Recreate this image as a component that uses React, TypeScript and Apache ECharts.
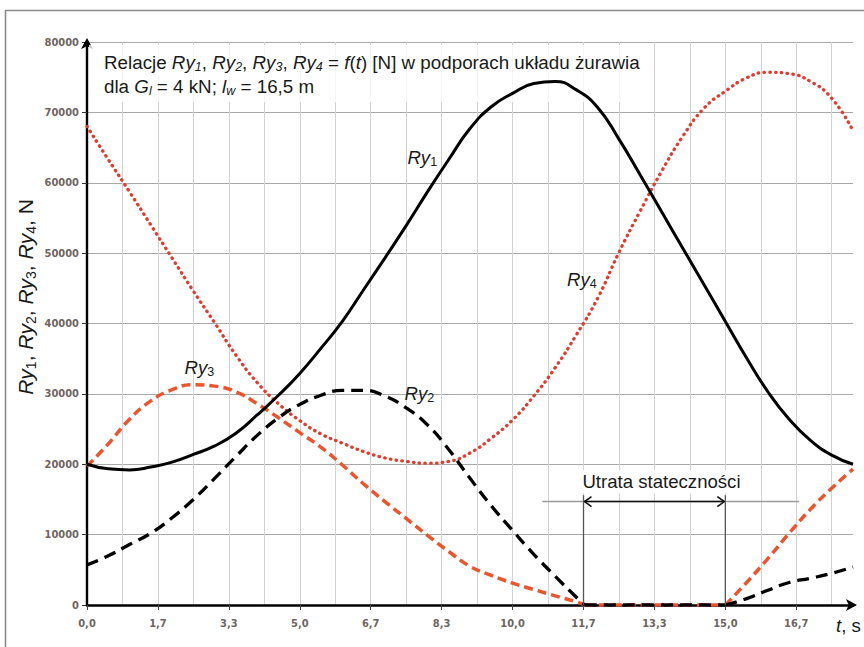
import React, { useEffect, useRef } from 'react';
import * as echarts from 'echarts';

// time points (s) for Ry1 and Ry4
const tFull = [0, 0.5, 1, 1.5, 2, 2.5, 3, 3.5, 4, 4.5, 5, 5.5, 6, 6.5, 7, 7.5, 8, 8.5, 9, 9.5, 10, 10.5, 11, 11.5, 12, 12.5, 13, 13.5, 14, 14.5, 15, 15.5, 16, 16.5, 17, 17.5, 18];
// time points (s) for Ry2 and Ry3 (they stay at zero between 11,7 s and 15,0 s)
const tLoaded = [0, 0.5, 1, 1.5, 2, 2.5, 3, 3.5, 4, 4.5, 5, 5.5, 6, 6.5, 7, 7.5, 8, 8.5, 9, 9.5, 10, 10.5, 11, 11.5, 11.7, 15, 15.5, 16, 16.5, 17, 17.5, 18];

// reactions in supports, N
const ry1 = [20000, 19350, 19200, 19600, 20300, 21400, 22600, 24400, 27000, 29800, 32900, 36500, 40300, 44800, 49300, 53900, 58700, 63300, 67700, 70800, 72700, 74100, 74400, 73200, 70700, 66200, 61100, 55900, 50700, 45500, 40300, 35100, 30300, 26400, 23400, 21300, 20000];
const ry4 = [68000, 63300, 58700, 54000, 49300, 44600, 40100, 35500, 31600, 28600, 26200, 24300, 23000, 21800, 20900, 20400, 20150, 20400, 21600, 23700, 26300, 29700, 33700, 38400, 43600, 50100, 56000, 61600, 66600, 70600, 73000, 74900, 75700, 75500, 74400, 72000, 67400];
const ry2 = [5700, 7000, 8600, 10200, 12400, 15000, 18000, 21100, 24100, 26600, 28500, 29800, 30500, 30500, 29700, 28000, 25600, 22100, 18000, 14100, 10600, 7200, 4100, 1100, 0, 0, 900, 2100, 3200, 3800, 4500, 5400];
const ry3 = [19700, 22900, 26400, 29000, 30600, 31300, 31100, 30300, 28600, 26600, 24500, 22400, 19900, 17200, 14700, 12300, 9900, 7600, 5500, 4200, 3100, 2200, 1300, 450, 0, 0, 3200, 6600, 10200, 13600, 16600, 19300];

// axis ticks
const xLabelValues = [0, 1.667, 3.333, 5.0, 6.667, 8.333, 10.0, 11.667, 13.333, 15.0, 16.667];
const xGridStep = 0.8333333333333334;
const xMax = 18;
const yMax = 80000;
const yStep = 10000;

// annotation "Utrata stateczności"
const lossStartT = 11.667;
const lossEndT = 15.0;
const lossLineTop = 15600;
const lossArrowLevel = 14700;
const lossGuideFrom = 10.7;
const lossGuideTo = 16.73;
const lossLabelPos = [13.5, 17500];

// curve labels: [t, value, index text]
const curveLabels: [number, number, string][] = [
  [7.53, 63600, '1'],
  [7.46, 30100, '2'],
  [2.29, 33800, '3'],
  [11.28, 46300, '4'],
];

const FONT = '"Liberation Sans", Arial, sans-serif';
const AXFONT = '"DejaVu Sans Condensed", "DejaVu Sans", sans-serif';
const RED3 = '#e8552f';
const RED4 = '#dc3e31';

function splitAtZeros(ts: number[], values: number[]) {
  const pairs = ts.map((t, i) => [t, values[i]]);
  const first = values.indexOf(0);
  const last = values.lastIndexOf(0);
  if (first < 0) return [pairs];
  return [pairs.slice(0, first + 1), pairs.slice(first, last + 1), pairs.slice(last)];
}

function lineSeries(ts: number[], values: number[], color: string, width: number, dash: number[] | 'solid', cap: string, z: number) {
  return splitAtZeros(ts, values).map((data) => ({
    type: 'line',
    xAxisIndex: 0,
    yAxisIndex: 0,
    data,
    smooth: true,
    symbol: 'none',
    silent: true,
    z,
    lineStyle: { color, width, type: dash, cap },
  }));
}

export default function App() {
  const ref = useRef<HTMLDivElement>(null);

  useEffect(() => {
    if (!ref.current) return;
    const chart = echarts.init(ref.current, undefined, { renderer: 'svg' });

    const option: any = {
      animation: false,
      backgroundColor: '#ffffff',
      grid: { left: 87, right: 11, top: 42, bottom: 42, containLabel: false, outerBoundsMode: 'none' },
      xAxis: [
        {
          type: 'value',
          min: 0,
          max: xMax,
          interval: xGridStep,
          z: 3,
          axisLine: {
            show: true,
            onZero: false,
            symbol: ['none', 'arrow'],
            symbolSize: [9, 11],
            symbolOffset: [0, 4],
            lineStyle: { color: '#000', width: 2.6 },
          },
          axisTick: { show: true, inside: false, length: 5, customValues: xLabelValues, lineStyle: { color: '#444', width: 1 } },
          axisLabel: {
            customValues: xLabelValues,
            formatter: (v: number) => v.toFixed(1).replace('.', ','),
            margin: 13,
            color: '#6e6461',
            fontSize: 11,
            fontWeight: 'bold',
            fontFamily: AXFONT,
          },
          splitLine: { show: false },
        },
        {
          // grid lines every 5/6 s
          type: 'value',
          min: 0,
          max: xMax,
          interval: xGridStep,
          position: 'bottom',
          axisLine: { show: false },
          axisTick: { show: false },
          axisLabel: { show: false },
          splitLine: { show: true, showMaxLine: false, lineStyle: { color: '#d2d2d2', width: 1 } },
        },
      ],
      yAxis: {
        type: 'value',
        min: 0,
        max: yMax,
        interval: yStep,
        axisLine: {
          show: true,
          symbol: ['none', 'arrow'],
          symbolSize: [9, 11],
          symbolOffset: [0, 4],
          lineStyle: { color: '#000', width: 2.4 },
        },
        axisTick: { show: true, inside: false, length: 5, lineStyle: { color: '#333', width: 1 } },
        axisLabel: {
          formatter: (v: number) => String(v),
          margin: 8,
          color: '#6e6461',
          fontSize: 11,
          fontWeight: 'bold',
          fontFamily: AXFONT,
        },
        splitLine: { show: true, lineStyle: { color: '#a8a8a8', width: 1 } },
      },
      series: [
        ...lineSeries(tFull, ry4, RED4, 3.3, [0.5, 5.3], 'round', 3),
        ...lineSeries(tLoaded, ry3, RED3, 3.5, [9, 5], 'butt', 4),
        ...lineSeries(tLoaded, ry2, '#000', 3.3, [12, 7], 'butt', 5),
        ...lineSeries(tFull, ry1, '#000', 3, 'solid', 'butt', 6),
      ],
    };
    chart.setOption(option);

    const px = (t: number, v: number) => chart.convertToPixel({ xAxisIndex: 0, yAxisIndex: 0 }, [t, v]) as number[];

    const txt = (size: number, italic = false) => ({
      fontSize: size,
      fontFamily: FONT,
      fontStyle: italic ? 'italic' : 'normal',
      fill: '#1a1a1a',
    });
    const subBase = { fontFamily: FONT, fill: '#1a1a1a', verticalAlign: 'bottom', lineHeight: 13 };

    const richFor = (size: number, subSize: number, subItalic: boolean) => ({
      n: { ...txt(size), lineHeight: size + 4 },
      i: { ...txt(size, true), lineHeight: size + 4 },
      s: { ...subBase, fontSize: subSize, fontStyle: subItalic ? 'italic' : 'normal', lineHeight: subSize + 1 },
    });
    const titleRich = richFor(18.8, 12.5, true);
    const labelRich = richFor(18.6, 12.5, false);
    const yNameRich = richFor(21, 14, false);

    const elements: any[] = [];
    // outer frame
    elements.push({
      type: 'rect', silent: true, z: 50,
      shape: { x: 5.5, y: 10.5, width: 900, height: 700 },
      style: { fill: 'none', stroke: '#8a8a8a', lineWidth: 1.6 },
    });
    // title backdrop
    elements.push({
      type: 'rect', silent: true, z: 1,
      shape: { x: 89, y: 45, width: 556, height: 57 },
      style: { fill: 'rgba(255,255,255,0.78)' },
    });
    elements.push({
      type: 'text', silent: true, z: 20, x: 104, y: 62,
      style: {
        text: '{n|Relacje }{i|Ry}{s|1}{n|, }{i|Ry}{s|2}{n|, }{i|Ry}{s|3}{n|, }{i|Ry}{s|4}{n| = }{i|f}{n|(}{i|t}{n|) [N] w podporach układu żurawia}',
        verticalAlign: 'middle', textAlign: 'left', rich: titleRich, ...txt(18.8),
      },
    });
    elements.push({
      type: 'text', silent: true, z: 20, x: 104, y: 86,
      style: {
        text: '{n|dla }{i|G}{s|l}{n| = 4 kN; }{i|l}{s|w}{n| = 16,5 m}',
        verticalAlign: 'middle', textAlign: 'left', rich: titleRich, ...txt(18.8),
      },
    });
    // y axis name
    elements.push({
      type: 'text', silent: true, z: 20, x: 25, y: 297, rotation: Math.PI / 2,
      style: {
        text: '{i|Ry}{s|1}{n|, }{i|Ry}{s|2}{n|, }{i|Ry}{s|3}{n|, }{i|Ry}{s|4}{n|, N}',
        verticalAlign: 'middle', textAlign: 'center', rich: yNameRich, ...txt(21),
      },
    });
    // x axis name
    const xEnd = px(xMax, 0);
    elements.push({
      type: 'text', silent: true, z: 20, x: xEnd[0] - 17, y: xEnd[1] + 20,
      style: {
        text: '{i|t}{n|, s}',
        verticalAlign: 'middle', textAlign: 'left', rich: labelRich, ...txt(18.6),
      },
    });
    // curve labels
    curveLabels.forEach(([t, v, k], idx) => {
      const p = px(t, v);
      elements.push({
        type: 'text', silent: true, z: 20, x: p[0], y: p[1], id: 'lab' + idx,
        style: { text: `{i|Ry}{s|${k}}`, verticalAlign: 'middle', textAlign: 'left', rich: labelRich, ...txt(18.6) },
      });
    });
    // loss of stability annotation
    const a0 = px(lossStartT, 0);
    const a1 = px(lossStartT, lossLineTop);
    const b0 = px(lossEndT, 0);
    const b1 = px(lossEndT, lossLineTop);
    const g0 = px(lossGuideFrom, lossArrowLevel);
    const g1 = px(lossGuideTo, lossArrowLevel);
    const l0 = px(lossStartT, lossArrowLevel);
    const l1 = px(lossEndT, lossArrowLevel);
    elements.push({ type: 'line', silent: true, z: 10, shape: { x1: a0[0], y1: a0[1], x2: a1[0], y2: a1[1] }, style: { stroke: '#555', lineWidth: 1.3 } });
    elements.push({ type: 'line', silent: true, z: 10, shape: { x1: b0[0], y1: b0[1], x2: b1[0], y2: b1[1] }, style: { stroke: '#555', lineWidth: 1.3 } });
    elements.push({ type: 'line', silent: true, z: 10, shape: { x1: g0[0], y1: g0[1], x2: g1[0], y2: g1[1] }, style: { stroke: '#9a9a9a', lineWidth: 1.5 } });
    elements.push({ type: 'line', silent: true, z: 11, shape: { x1: l0[0] + 1, y1: l0[1], x2: l1[0] - 1, y2: l1[1] }, style: { stroke: '#111', lineWidth: 1.6 } });
    elements.push({ type: 'polyline', silent: true, z: 11, shape: { points: [[l0[0] + 8, l0[1] - 5], [l0[0] + 1, l0[1]], [l0[0] + 8, l0[1] + 5]] }, style: { stroke: '#111', lineWidth: 1.6, fill: 'none' } });
    elements.push({ type: 'polyline', silent: true, z: 11, shape: { points: [[l1[0] - 8, l1[1] - 5], [l1[0] - 1, l1[1]], [l1[0] - 8, l1[1] + 5]] }, style: { stroke: '#111', lineWidth: 1.6, fill: 'none' } });
    const lp = px(lossLabelPos[0], lossLabelPos[1]);
    elements.push({
      type: 'text', silent: true, z: 12, x: lp[0], y: lp[1],
      style: {
        text: 'Utrata stateczności', ...txt(18.6), textAlign: 'center', verticalAlign: 'middle',
        backgroundColor: '#ffffff', padding: [2, 4, 2, 4],
      },
    });

    chart.setOption({ graphic: { elements } });

    return () => chart.dispose();
  }, []);

  return <div ref={ref} style={{ width: 864, height: 647, position: 'absolute', left: 0, top: 0 }} />;
}
